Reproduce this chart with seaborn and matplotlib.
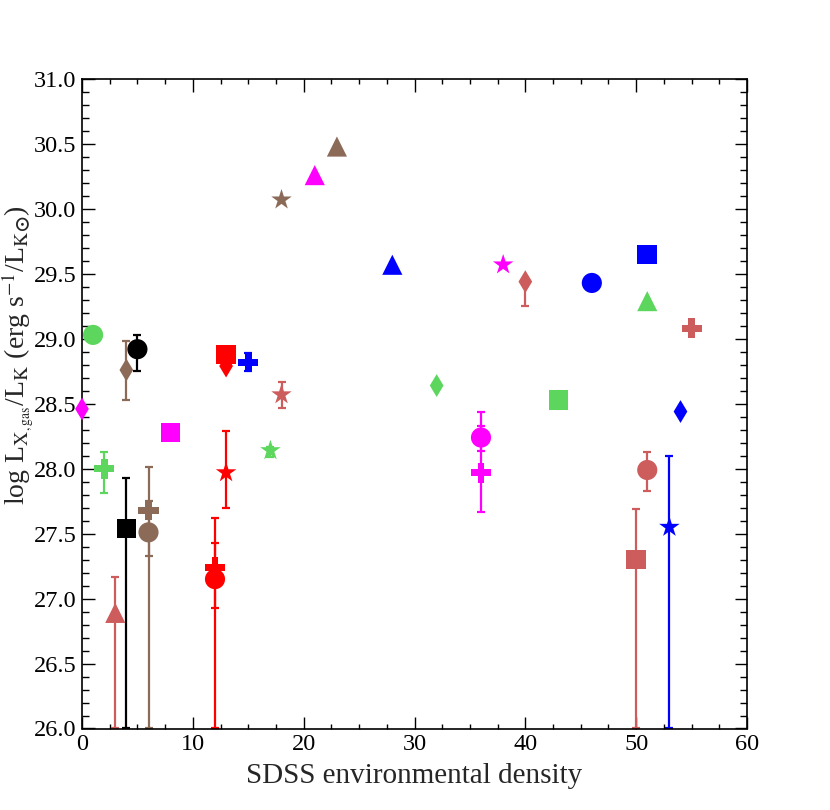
import matplotlib
matplotlib.use("Agg")
import matplotlib.pyplot as plt
from matplotlib.ticker import MultipleLocator, FormatStrFormatter
import numpy as np
import pandas as pd
import seaborn as sns

# ---------------- data ----------------
# sample group (colour family) and measurement kind (marker family)
group = ["G5", "G3", "G6", "G1", "G2", "G2", "G4", "G3", "G5", "G1",
         "G6", "G6", "G7", "G2", "G2", "G2", "G6", "G3", "G6", "G7",
         "G5", "G4", "G5", "G3", "G7", "G4", "G4", "G5", "G7", "G5",
         "G4", "G3", "G3", "G7", "G7", "G4"]
kind = ["circle", "diamond", "diamond", "circle", "square", "diamond", "plus", "square", "plus", "square",
        "plus", "circle", "triangle", "star", "plus", "circle", "star", "triangle", "triangle", "star",
        "star", "triangle", "diamond", "star", "diamond", "circle", "square", "triangle", "plus", "square",
        "diamond", "circle", "plus", "circle", "square", "star"]
density = [1, 0, 4, 5, 13, 13, 15, 8, 2, 4,
           6, 6, 3, 13, 12, 12, 18, 21, 23, 18,
           17, 28, 32, 38, 40, 46, 51, 51, 55, 43,
           54, 36, 36, 51, 50, 53]
log_lx = [29.03, 28.46, 28.76, 28.92, 28.88, 28.79, 28.82, 28.28, 28.00, 27.54,
          27.68, 27.51, 26.89, 27.97, 27.24, 27.15, 30.07, 30.26, 30.48, 28.57,
          28.14, 29.57, 28.64, 29.57, 29.44, 29.43, 29.65, 29.29, 29.08, 28.53,
          28.44, 28.24, 27.97, 27.99, 27.30, 27.55]
# error-bar bounds (NaN = no error bar)
nan = np.nan
err_low = [nan, nan, 28.53, 28.75, nan, nan, 28.75, nan, 27.81, 26.0,
           26.0, 27.33, 26.0, 27.70, 26.93, 26.0, nan, nan, nan, 28.47,
           28.09, nan, nan, nan, 29.25, nan, nan, nan, nan, nan,
           nan, 28.14, 27.67, 27.83, 26.0, 26.0]
err_high = [nan, nan, 28.98, 29.03, nan, nan, 28.89, nan, 28.13, 27.93,
            28.01, 27.75, 27.17, 28.29, 27.43, 27.62, nan, nan, nan, 28.67,
            28.17, nan, nan, nan, 29.44, nan, nan, nan, nan, nan,
            nan, 28.44, 28.33, 28.13, 27.69, 28.10]

x_ticks = [0, 10, 20, 30, 40, 50, 60]
y_ticks = [26.0, 26.5, 27.0, 27.5, 28.0, 28.5, 29.0, 29.5, 30.0, 30.5, 31.0]

# ---------------- styles ----------------
palette = {"G1": "#000000", "G2": "#ff0000", "G3": "#ff00ff", "G4": "#0000ff",
           "G5": "#5cd65c", "G6": "#8b6a58", "G7": "#cd5c5c"}
markers = {"circle": "o", "square": "s", "triangle": "^", "diamond": "d",
           "plus": "P", "star": "*"}
sizes = {"circle": 210, "square": 200, "triangle": 210, "diamond": 135,
         "plus": 210, "star": 240}

df = pd.DataFrame({"group": group, "kind": kind, "x": density, "y": log_lx,
                   "lo": err_low, "hi": err_high})

sns.set_theme(style="ticks")
plt.rcParams["font.family"] = ["Liberation Serif", "DejaVu Serif"]
plt.rcParams["mathtext.fontset"] = "stix"

fig = plt.figure(figsize=(8.3, 8.1), dpi=100)
ax = fig.add_axes([82 / 830, 1 - 728.5 / 810, (747 - 82) / 830, (728.5 - 79) / 810])

# error bars
eb = df.dropna(subset=["lo", "hi"])
for _, r in eb.iterrows():
    ax.errorbar(r["x"], r["y"], yerr=[[r["y"] - r["lo"]], [r["hi"] - r["y"]]],
                fmt="none", ecolor=palette[r["group"]], elinewidth=1.6,
                capsize=2.6, capthick=1.6, zorder=2)

sns.scatterplot(data=df, x="x", y="y", hue="group", style="kind", size="kind",
                palette=palette, markers=markers, sizes=sizes, linewidth=0,
                legend=False, ax=ax, zorder=3, clip_on=False)

ax.set_xlim(0, 60)
ax.set_ylim(26, 31)
ax.set_xticks(x_ticks)
ax.set_yticks(y_ticks)
ax.xaxis.set_minor_locator(MultipleLocator(2.5))
ax.yaxis.set_minor_locator(MultipleLocator(0.1))
ax.yaxis.set_major_formatter(FormatStrFormatter("%.1f"))
ax.xaxis.set_major_formatter(FormatStrFormatter("%d"))

ax.tick_params(which="both", direction="in", top=True, right=True,
               colors="black", labelsize=17.5, width=1.0)
ax.tick_params(which="major", length=9, pad=4)
ax.tick_params(axis="y", which="minor", length=5)
ax.tick_params(axis="x", which="minor", length=3.5)
for s in ax.spines.values():
    s.set_linewidth(1.2)
    s.set_color("black")

ax.set_xlabel("SDSS environmental density", fontsize=21, labelpad=6)
ax.set_ylabel("")
fig.text(18 / 830, 1 - 355 / 810,
         r"log L$_{\mathrm{X}_{,\mathrm{gas}}}$/L$_{\mathrm{K}}$ (erg s$^{-1}$/L$_{\mathrm{K}\mathbf{\odot}}$)",
         rotation=90, ha="center", va="center", fontsize=20)

fig.savefig("out.png", dpi=100)
